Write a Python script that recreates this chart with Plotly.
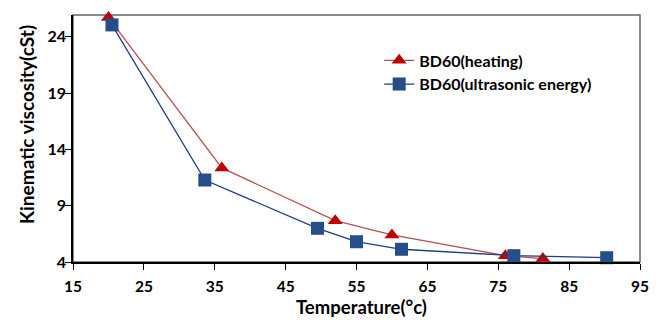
import plotly.graph_objects as go

heat_x = [20.0, 36.0, 52.0, 60.0, 76.0, 81.3]
heat_y = [25.7, 12.35, 7.67, 6.4, 4.56, 4.3]
ultra_x = [20.5, 33.6, 49.5, 55.0, 61.35, 77.2, 90.3]
ultra_y = [25.05, 11.28, 6.99, 5.8, 5.13, 4.56, 4.38]
x_ticks = [15, 25, 35, 45, 55, 65, 75, 85, 95]
y_ticks = [4, 9, 14, 19, 24]

font = "Lato"
L, R, T, B = 73, 21, 15, 58
PW, PH = 661 - L - R, 320 - T - B

fig = go.Figure()
fig.add_trace(go.Scatter(
    x=heat_x, y=heat_y, mode="lines+markers", name="BD60(heating)",
    line=dict(color="#B5524E", width=1.3),
    marker=dict(symbol="triangle-up", size=13, color="#C00000"),
    cliponaxis=False,
))
fig.add_trace(go.Scatter(
    x=ultra_x, y=ultra_y, mode="lines+markers", name="BD60(ultrasonic energy)",
    line=dict(color="#1F3C88", width=1.3),
    marker=dict(symbol="square", size=13, color="#254F8A"),
    cliponaxis=False,
))

fig.update_layout(
    width=661, height=320,
    margin=dict(l=L, r=R, t=T, b=B),
    plot_bgcolor="white", paper_bgcolor="white",
    font=dict(family=font, size=14, color="black"),
    showlegend=True,
    legend=dict(x=0.54, y=0.885, xanchor="left", yanchor="top",
                bgcolor="rgba(0,0,0,0)", font=dict(family=font, size=16, color="black", weight="bold"),
                itemwidth=30, tracegroupgap=0),
    shapes=[dict(type="rect", xref="paper", yref="paper", x0=0, y0=0, x1=1, y1=1,
                 line=dict(color="#666666", width=1.5), layer="below")],
    annotations=[
        dict(text="Temperature(°c)", xref="paper", yref="paper",
             x=(361 - L) / PW, y=-(319.5 - (T + PH)) / PH, xanchor="center", yanchor="bottom",
             showarrow=False, font=dict(family=font, size=18.5, weight="bold")),
        dict(text="Kinematic viscosity(cSt)", xref="paper", yref="paper", textangle=-90,
             x=-(L - 26) / PW, y=1 - (125 - T) / PH, xanchor="center", yanchor="middle",
             showarrow=False, font=dict(family=font, size=19, weight="bold")),
    ],
)
fig.update_xaxes(
    range=[15, 95], tickvals=x_ticks, ticktext=[str(v) for v in x_ticks],
    automargin=False,
    showgrid=False, zeroline=False, showline=True, linecolor="black", linewidth=1.5,
    ticks="outside", ticklen=6, tickcolor="black", tickwidth=1.2, ticklabelstandoff=4,
    tickfont=dict(family=font, size=15.5, weight="bold"),
)
fig.update_yaxes(
    range=[4, 25.93], tickvals=y_ticks, ticktext=[str(v) for v in y_ticks],
    automargin=False,
    showgrid=False, zeroline=False, showline=True, linecolor="black", linewidth=1.5,
    ticks="outside", ticklen=6, tickcolor="black", tickwidth=1.2, ticklabelstandoff=-4,
    tickfont=dict(family=font, size=16, weight="bold"),
)

fig.write_html("out.html")
